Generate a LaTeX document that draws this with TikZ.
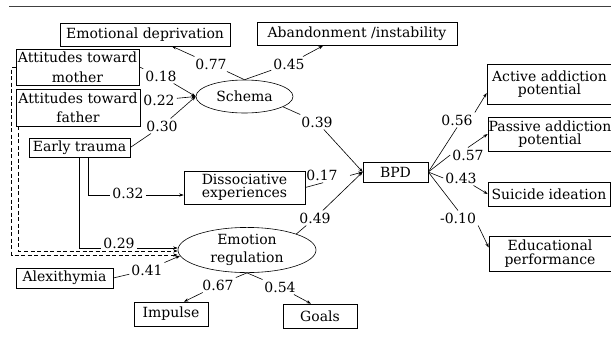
\documentclass[tikz,border=0pt]{standalone}
\usepackage{fontspec}
\setmainfont{DejaVu Serif}
\usetikzlibrary{shapes.geometric,arrows.meta,calc}
\begin{document}
\begin{tikzpicture}[x=1pt,y=-1pt,
  every node/.style={font=\fontsize{14}{14}\selectfont},
  box/.style={draw, line width=0.6pt, rectangle, inner sep=0pt, align=center},
  oval/.style={draw, line width=0.6pt, ellipse, inner sep=0pt, align=center},
  lbl/.style={inner sep=2pt},
  conn/.style={line width=0.6pt},
  arr/.style={conn, -{Stealth[length=4.5pt,width=3.2pt]}},
  dsh/.style={arr, dash pattern=on 4pt off 2.5pt},
]
\useasboundingbox (0,0) rectangle (611,341);
\draw[line width=1pt, black!75] (9,6.5) -- (611,6.5);

% boxes
\node[box, minimum width=170pt, minimum height=23pt] (ed) at (145,34.5) {Emotional deprivation};
\node[box, minimum width=200pt, minimum height=23pt] (ab) at (357,34) {Abandonment /instability};
\node[box, minimum width=123pt, minimum height=36pt, font=\fontsize{14}{20}\selectfont] (mo) at (77.5,67) {Attitudes toward\\mother};
\node[box, minimum width=124pt, minimum height=37pt, font=\fontsize{14}{19}\selectfont] (fa) at (78,107.5) {Attitudes toward\\father};
\node[box, minimum width=101pt, minimum height=19pt] (et) at (79.5,147.5) {Early trauma};
\node[oval, minimum width=97pt, minimum height=33pt] (schema) at (244.5,96.5) {Schema};
\node[box, minimum width=121pt, minimum height=33pt, font=\fontsize{14}{13.5}\selectfont] (dis) at (244.5,187.5) {Dissociative\\experiences};
\node[oval, minimum width=138pt, minimum height=40pt, font=\fontsize{14}{18.5}\selectfont] (er) at (247,250) {Emotion\\regulation};
\node[box, minimum width=97pt, minimum height=20pt] (alex) at (64.5,278) {Alexithymia};
\node[box, minimum width=74pt, minimum height=24pt] (imp) at (171,314) {Impulse};
\node[box, minimum width=74pt, minimum height=24pt] (goals) at (320,316) {Goals};
\node[box, minimum width=65pt, minimum height=20pt] (bpd) at (395.5,172) {BPD};
\node[box, minimum width=125pt, minimum height=40pt, font=\fontsize{14}{13.5}\selectfont] (act) at (549.5,84) {Active addiction\\potential};
\node[box, minimum width=124pt, minimum height=34pt, font=\fontsize{14}{13.5}\selectfont] (pas) at (550,134) {Passive addiction\\potential};
\node[box, minimum width=122pt, minimum height=24pt] (sui) at (549,194) {Suicide ideation};
\node[box, minimum width=122pt, minimum height=35pt, font=\fontsize{14}{13.5}\selectfont] (edu) at (550,253.5) {Educational\\performance};

% labels
\node[lbl] (l77) at (211,64) {0.77};
\node[lbl] (l45) at (289,64) {0.45};
\node[lbl] (l18) at (161,76) {0.18};
\node[lbl] (l22) at (159,100) {0.22};
\node[lbl] (l30) at (162,126) {0.30};
\node[lbl] (l39) at (317,122) {0.39};
\node[lbl] (l17) at (322,175) {0.17};
\node[lbl] (l49) at (315,218) {0.49};
\node[lbl] (l32) at (128,193) {0.32};
\node[lbl] (l29) at (119,243) {0.29};
\node[lbl] (l41) at (147,270) {0.41};
\node[lbl] (l67) at (218,285) {0.67};
\node[lbl] (l54) at (280,287) {0.54};
\node[lbl] (l56) at (457,120) {0.56};
\node[lbl] (l57) at (468,155) {0.57};
\node[lbl] (l43) at (461,178) {0.43};
\node[lbl] (l10) at (458,218) {-0.10};

% schema
\draw[conn] (schema.north) -- (l77); \draw[arr] (l77) -- ([xshift=27pt]ed.south);
\draw[conn] (schema.north) -- (l45); \draw[arr] (l45) -- ([xshift=-34pt]ab.south);
\draw[conn] (mo.east) -- (l18); \draw[arr] (l18) -- (schema.west);
\draw[conn] ([yshift=7.5pt]fa.east) -- (l22); \draw[arr] (l22) -- (schema.west);
\draw[conn] (et.east) -- (l30); \draw[arr] (l30) -- (schema.west);
\draw[conn] (schema.-15) -- (l39); \draw[arr] (l39) -- (bpd.west);

% dissociative
\draw[conn] ([xshift=8.5pt]et.south) |- ([yshift=-2pt]l32.west);
\draw[arr] ([yshift=-2pt]l32.east) -- ([yshift=-7.5pt]dis.west);
\draw[conn] (dis.east) -- ($(dis.east)!0.31!(bpd.west)$);
\draw[arr] ($(dis.east)!0.78!(bpd.west)$) -- (bpd.west);

% emotion regulation
\draw[conn] (et.south) |- ([yshift=-5pt]l29.west);
\draw[arr] ([yshift=-5pt]l29.east) -- ([yshift=2pt]er.west);
\draw[dsh] (mo.west) -- ++(-4,0) |- ([yshift=-5pt]er.west);
\draw[dsh] ([xshift=3pt]fa.south west) |- ([yshift=-1pt]er.west);
\draw[conn] (alex.east) -- (l41); \draw[arr] (l41) -- (er.185);
\draw[conn] (er.18) -- (l49); \draw[arr] (l49) -- (bpd.west);
\draw[conn] (er.south) -- (l67); \draw[arr] (l67) -- ([xshift=13pt]imp.north);
\draw[conn] (er.south) -- (l54); \draw[arr] (l54) -- ([xshift=-9pt]goals.north);

% outcomes
\draw[conn] (bpd.east) -- (l56.south); \draw[arr] (l56.north east) -- ([yshift=-9pt]act.west);
\draw[conn] (bpd.east) -- (l57.west); \draw[arr] (l57.north) -- (pas.west);
\draw[conn] (bpd.east) -- (l43.west); \draw[arr] (l43) -- (sui.west);
\draw[conn] (bpd.east) -- (l10.north); \draw[arr] (l10.south east) -- ([yshift=6pt]edu.west);
\end{tikzpicture}
\end{document}
